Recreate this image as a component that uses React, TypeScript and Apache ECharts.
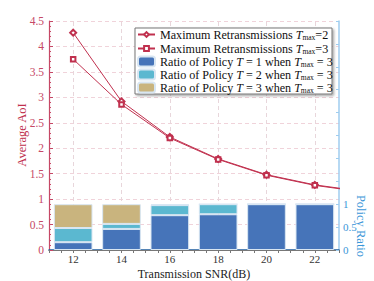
import React, { useEffect, useRef } from "react";
import * as echarts from "echarts";

const snrCategories = ["12", "14", "16", "18", "20", "22"];
const lineX = [12, 14, 16, 18, 20, 22, 24];
const aoiTmax2 = [4.27, 2.92, 2.22, 1.79, 1.48, 1.28, 1.15];
const aoiTmax3 = [3.75, 2.86, 2.2, 1.78, 1.47, 1.27, 1.14];
const policyT1 = [0.17, 0.46, 0.76, 0.78, 1, 1];
const policyT2 = [0.31, 0.11, 0.22, 0.22, 0, 0];
const policyT3 = [0.52, 0.43, 0.02, 0, 0, 0];
const gridX = [12, 14, 16, 18, 20, 22];

const FONT = "Liberation Serif";
const CRIMSON = "#c0304e";
const AXIS_RED = "#c64866";
const BLUE_AXIS = "#9fcdef";
const BLUE_TEXT = "#3a96d8";

const names = {
  t2: "Maximum Retransmissions Tmax=2",
  t3: "Maximum Retransmissions Tmax=3",
  p1: "Ratio of Policy T = 1 when Tmax = 3",
  p2: "Ratio of Policy T = 2 when Tmax = 3",
  p3: "Ratio of Policy T = 3 when Tmax = 3",
};

const richNames: Record<string, string> = {
  [names.t2]: "{n|Maximum Retransmissions }{i|T}{s|max}{n|=2}",
  [names.t3]: "{n|Maximum Retransmissions }{i|T}{s|max}{n|=3}",
  [names.p1]: "{n|Ratio of Policy }{i|T}{n| = 1 when }{i|T}{s|max}{n| = 3}",
  [names.p2]: "{n|Ratio of Policy }{i|T}{n| = 2 when }{i|T}{s|max}{n| = 3}",
  [names.p3]: "{n|Ratio of Policy }{i|T}{n| = 3 when }{i|T}{s|max}{n| = 3}",
};

const FS = 12.1;
const legendText = {
  fontFamily: FONT,
  fontSize: FS,
  color: "#111",
  lineHeight: 13,
  rich: {
    n: { fontFamily: FONT, fontSize: FS, color: "#111", lineHeight: 13 },
    i: { fontFamily: FONT, fontSize: FS, fontStyle: "italic", color: "#111", lineHeight: 13 },
    s: { fontFamily: FONT, fontSize: 7.5, color: "#111", padding: [5, 0, 0, 0], lineHeight: 13 },
  },
};

export default function App() {
  const ref = useRef<HTMLDivElement>(null);
  useEffect(() => {
    document.body.style.margin = "0";
    const chart = echarts.init(ref.current!, null, { renderer: "svg" });
    const barStyle = (c: string) => ({ color: c, borderColor: "#d8e6f2", borderWidth: 1 });
    const legendCommon = {
      orient: "vertical",
      left: 137,
      padding: 0,
      itemGap: 0,
      itemWidth: 17,
      z: 7,
      formatter: (n: string) => richNames[n] || n,
      textStyle: legendText,
    };
    chart.setOption({
      animation: false,
      textStyle: { fontFamily: FONT },
      grid: { left: 49, right: 35, top: 21, bottom: 31, outerBoundsMode: "none", containLabel: false },
      legend: [
        { ...legendCommon, top: 28, itemGap: 1, itemHeight: 6, data: [names.t2, names.t3] },
        { ...legendCommon, top: 55, itemHeight: 10, data: [names.p1, names.p2, names.p3] },
      ],
      xAxis: [
        {
          type: "category",
          data: snrCategories,
          position: "bottom",
          boundaryGap: true,
          axisLine: { lineStyle: { color: "#1f5d9e", width: 1.5 } },
          axisTick: { inside: true, length: 2, lineStyle: { color: "#1f5d9e" } },
          axisLabel: { color: "#333", fontSize: 11, fontFamily: FONT, margin: 3, lineHeight: 11 },
          splitLine: { show: false },
        },
        {
          type: "value",
          position: "top",
          min: 11,
          max: 23,
          interval: 0.5,
          axisLine: { show: true, lineStyle: { color: "#777", width: 1 } },
          axisTick: { show: true, inside: true, length: 3, lineStyle: { color: "#777" } },
          axisLabel: { show: false },
          splitLine: { show: false },
        },
      ],
      yAxis: [
        {
          type: "value",
          position: "left",
          min: 0,
          max: 4.5,
          interval: 0.5,
          axisLine: { show: true, lineStyle: { color: AXIS_RED, width: 1.2 } },
          axisTick: { show: true, inside: true, length: 4, lineStyle: { color: AXIS_RED } },
          minorTick: { show: true, splitNumber: 5, length: 2, lineStyle: { color: AXIS_RED } },
          axisLabel: { color: AXIS_RED, fontSize: 11.5, fontFamily: FONT, margin: 5 },
          splitLine: { show: true, lineStyle: { color: "#f0d3da", type: [4, 3], width: 1 } },
        },
        {
          type: "value",
          position: "right",
          min: 0,
          max: 5,
          interval: 0.5,
          axisLine: { show: true, lineStyle: { color: BLUE_AXIS, width: 1.5 } },
          axisTick: { show: true, inside: true, length: 3, lineStyle: { color: BLUE_AXIS } },
          axisLabel: {
            color: BLUE_TEXT,
            fontSize: 11,
            fontFamily: FONT,
            margin: 4,
            formatter: (v: number) => (v <= 1 ? String(v) : ""),
          },
          splitLine: { show: false },
        },
      ],
      series: [
        {
          name: names.p1,
          type: "bar",
          stack: "policy",
          xAxisIndex: 0,
          yAxisIndex: 1,
          barWidth: "80%",
          itemStyle: barStyle("#4674b9"),
          data: policyT1,
          z: 1,
        },
        {
          name: names.p2,
          type: "bar",
          stack: "policy",
          xAxisIndex: 0,
          yAxisIndex: 1,
          barWidth: "80%",
          itemStyle: barStyle("#5bb8d0"),
          data: policyT2,
          z: 1,
        },
        {
          name: names.p3,
          type: "bar",
          stack: "policy",
          xAxisIndex: 0,
          yAxisIndex: 1,
          barWidth: "80%",
          itemStyle: barStyle("#c9b47e"),
          data: policyT3,
          z: 1,
        },
        {
          name: names.t2,
          type: "line",
          xAxisIndex: 1,
          yAxisIndex: 0,
          data: lineX.map((x, i) => [x, aoiTmax2[i]]),
          symbol: "emptyDiamond",
          symbolSize: 6,
          color: CRIMSON,
          lineStyle: { color: CRIMSON, width: 1 },
          itemStyle: { color: CRIMSON, borderWidth: 1 },
          clip: true,
          z: 3,
          markLine: {
            silent: true,
            symbol: "none",
            label: { show: false },
            lineStyle: { color: "#e8d6db", type: [4, 3], width: 1 },
            data: gridX.map((x) => ({ xAxis: x })),
            z: 0,
          },
        },
        {
          name: names.t3,
          type: "line",
          xAxisIndex: 1,
          yAxisIndex: 0,
          data: lineX.map((x, i) => [x, aoiTmax3[i]]),
          symbol: "emptyRect",
          symbolSize: 4.5,
          color: CRIMSON,
          lineStyle: { color: CRIMSON, width: 1 },
          itemStyle: { color: CRIMSON, borderWidth: 1 },
          clip: true,
          z: 3,
        },
      ],
      graphic: [
        {
          type: "rect",
          z: 6,
          shape: { x: 135, y: 28, width: 197, height: 66 },
          style: {
            fill: "#fff",
            stroke: "#777",
            lineWidth: 1,
            shadowColor: "rgba(0,0,0,0.35)",
            shadowBlur: 2,
            shadowOffsetX: 1.5,
            shadowOffsetY: 1.5,
          },
        },
        {
          type: "text",
          x: 361,
          y: 226,
          rotation: -Math.PI / 2,
          style: {
            text: "Policy Ratio",
            fill: BLUE_TEXT,
            fontSize: 12.5,
            fontFamily: FONT,
            align: "center",
            verticalAlign: "middle",
          },
        },
        {
          type: "text",
          x: 22,
          y: 135,
          rotation: Math.PI / 2,
          style: {
            text: "Average AoI",
            fill: CRIMSON,
            fontSize: 12.5,
            fontFamily: FONT,
            align: "center",
            verticalAlign: "middle",
          },
        },
        {
          type: "text",
          x: 194,
          y: 273.5,
          style: {
            text: "Transmission SNR(dB)",
            fill: "#222",
            fontSize: 12,
            fontFamily: FONT,
            align: "center",
            verticalAlign: "middle",
          },
        },
      ],
    });
    return () => chart.dispose();
  }, []);
  return <div ref={ref} style={{ width: 374, height: 281 }} />;
}
